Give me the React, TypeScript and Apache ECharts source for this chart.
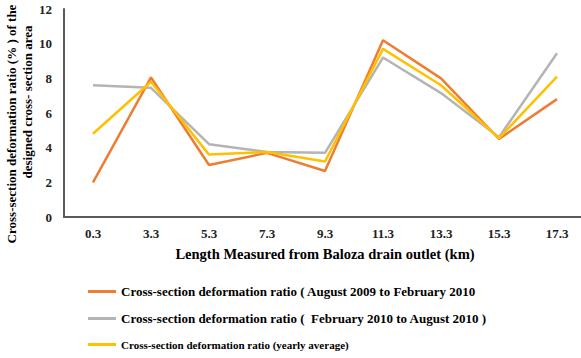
import React, { useEffect, useRef } from "react";
import * as echarts from "echarts";

const categories = ["0.3", "3.3", "5.3", "7.3", "9.3", "11.3", "13.3", "15.3", "17.3"];
const augToFeb = [2.0, 8.05, 3.0, 3.7, 2.65, 10.2, 8.0, 4.5, 6.8];
const febToAug = [7.6, 7.45, 4.2, 3.75, 3.7, 9.2, 7.15, 4.6, 9.45];
const yearlyAvg = [4.8, 7.8, 3.6, 3.75, 3.2, 9.7, 7.6, 4.55, 8.1];

const names = [
  "Cross-section deformation ratio ( August 2009 to February 2010",
  "Cross-section deformation ratio (  February 2010 to August 2010 )",
  "Cross-section deformation ratio (yearly average)",
];
const yTitleLines = ["Cross-section deformation ratio (% ) of the", "designed cross- section area"];
const xTitle = "Length Measured from Baloza drain outlet (km)";
const colors = ["#ED7D31", "#B4B4B4", "#FFC000"];
const serif = "Liberation Serif";

export default function App() {
  const ref = useRef<HTMLDivElement>(null);
  useEffect(() => {
    document.body.style.margin = "0";
    const chart = echarts.init(ref.current!, null, { renderer: "svg" });
    const legendTops = [280, 307, 334];
    const legendSizes = [13, 13, 11];
    const yTitlePos = [
      { x: 11, y: 124 },
      { x: 27, y: 102 },
    ];
    chart.setOption({
      animation: false,
      grid: { left: 64, top: 9, width: 522, height: 208, outerBoundsMode: "none", containLabel: false },
      graphic: yTitleLines.map((t, i) => ({
        type: "text",
        x: yTitlePos[i].x,
        y: yTitlePos[i].y,
        rotation: Math.PI / 2,
        style: {
          text: t,
          fontFamily: serif,
          fontWeight: "bold",
          fontSize: 13,
          fill: "#000",
          align: "center",
          verticalAlign: "middle",
        },
      })),
      legend: names.map((n, i) => ({
        data: [n],
        left: 83,
        top: legendTops[i],
        orient: "vertical",
        icon: "rect",
        itemWidth: 28,
        itemHeight: 3,
        itemGap: 5,
        textStyle: {
          fontFamily: serif,
          fontWeight: "bold",
          fontSize: legendSizes[i],
          color: "#000",
        },
      })),
      xAxis: {
        type: "category",
        data: categories,
        boundaryGap: true,
        axisLine: { lineStyle: { color: "#595959", width: 2 } },
        axisTick: { show: false },
        axisLabel: {
          fontFamily: serif,
          fontWeight: "bold",
          fontSize: 13,
          color: "#222",
          margin: 10,
        },
        name: xTitle,
        nameLocation: "middle",
        nameGap: 29,
        nameTextStyle: {
          fontFamily: serif,
          fontWeight: "bold",
          fontSize: 14.5,
          color: "#000",
        },
      },
      yAxis: {
        type: "value",
        min: 0,
        max: 12,
        interval: 2,
        splitLine: { show: false },
        axisLine: { show: true, lineStyle: { color: "#595959", width: 2 } },
        axisTick: { show: false },
        axisLabel: {
          fontFamily: serif,
          fontWeight: "bold",
          fontSize: 13,
          color: "#222",
          margin: 12,
        },
      },
      series: [augToFeb, febToAug, yearlyAvg].map((d, i) => ({
        type: "line",
        name: names[i],
        data: d,
        symbol: "none",
        lineStyle: { color: colors[i], width: 2.5 },
        itemStyle: { color: colors[i] },
      })),
    });
    return () => chart.dispose();
  }, []);
  return <div ref={ref} style={{ width: 581, height: 358 }} />;
}
